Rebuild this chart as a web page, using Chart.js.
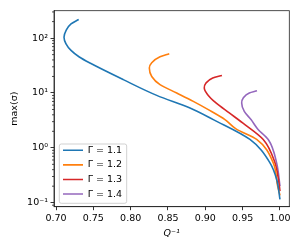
<!DOCTYPE html>
<html>
<head>
<meta charset="utf-8">
<script src="https://cdn.jsdelivr.net/npm/chart.js@4/dist/chart.umd.min.js"></script>
<style>
  body { margin: 0; background: #fff; }
</style>
</head>
<body>
<canvas id="grafico" width="302" height="251"></canvas>
<script>
// Valores
const gammaLabels = ['Γ = 1.1', 'Γ = 1.2', 'Γ = 1.3', 'Γ = 1.4'];
const cores = ['#1f77b4', '#ff7f0e', '#d62728', '#9467bd'];

const qInv11 = [0.7304, 0.7201, 0.7134, 0.7107, 0.7134, 0.7201, 0.7312, 0.7455, 0.7901, 0.8349, 0.8795, 0.9107, 0.9598, 0.9866, 0.9956, 1.0];
const sigma11 = [218, 182, 137, 104, 78.7, 59.6, 45.2, 35.1, 17.5, 9.04, 5.33, 3.27, 1.42, 0.533, 0.265, 0.115];

const qInv12 = [0.8517, 0.8393, 0.8282, 0.8250, 0.8282, 0.8393, 0.8617, 0.8839, 0.9040, 0.9263, 0.9411, 0.9688, 0.9910, 0.9969, 1.0];
const sigma12 = [51.9, 45.7, 35.6, 28.5, 20.0, 14.2, 10.0, 7.03, 4.97, 3.27, 2.21, 1.42, 0.533, 0.2, 0.136];

const qInv13 = [0.9223, 0.9099, 0.9009, 0.8986, 0.9032, 0.9143, 0.9321, 0.9500, 0.9776, 0.9933, 0.9980, 1.0];
const sigma13 = [20.9, 18.7, 15.2, 12.3, 9.31, 6.58, 4.33, 2.85, 1.42, 0.533, 0.265, 0.163];

const qInv14 = [0.9692, 0.9589, 0.9508, 0.9487, 0.9522, 0.9612, 0.9701, 0.9843, 0.9955, 1.0];
const sigma14 = [11.0, 10.0, 8.11, 6.58, 4.62, 3.27, 2.21, 1.42, 0.533, 0.2];

const xTicks = [0.70, 0.75, 0.80, 0.85, 0.90, 0.95, 1.00];
const yMajor = [0.1, 1, 10, 100];
const yLabels = ['10⁻¹', '10⁰', '10¹', '10²'];

const series = [[qInv11, sigma11], [qInv12, sigma12], [qInv13, sigma13], [qInv14, sigma14]];

const fonte = 'DejaVu Sans';

// ticks menores do eixo log (2..9 de cada década)
const yMinor = [];
[0.01, 0.1, 1, 10, 100].forEach(d => {
    for (let k = 2; k <= 9; k++) yMinor.push(+(k * d).toPrecision(3));
});

function ehMaior(v) {
    return yMajor.some(m => Math.abs(m - v) / m < 1e-6);
}

// moldura completa, ticks menores e caixa da legenda
const molduraPlugin = {
    id: 'moldura',
    afterLayout(chart) {
        const a = chart.chartArea;
        const lg = chart.legend;
        lg.left = a.left + 3.9;
        lg.top = a.bottom - 66.3;
        lg.width = 90;
        lg.height = 70;
        lg.right = lg.left + lg.width;
        lg.bottom = lg.top + lg.height;
    },
    beforeDraw(chart) {
        const ctx = chart.ctx;
        const a = chart.chartArea;
        const x0 = a.left + 5.3, y0 = a.bottom - 62.7;
        const w = 67.4, h = 59.3, r = 2;
        ctx.save();
        ctx.beginPath();
        ctx.moveTo(x0 + r, y0);
        ctx.arcTo(x0 + w, y0, x0 + w, y0 + h, r);
        ctx.arcTo(x0 + w, y0 + h, x0, y0 + h, r);
        ctx.arcTo(x0, y0 + h, x0, y0, r);
        ctx.arcTo(x0, y0, x0 + w, y0, r);
        ctx.closePath();
        ctx.fillStyle = 'rgba(255,255,255,0.8)';
        ctx.fill();
        ctx.strokeStyle = '#cccccc';
        ctx.lineWidth = 0.9;
        ctx.stroke();
        ctx.restore();
    },
    afterDraw(chart) {
        const ctx = chart.ctx;
        const a = chart.chartArea;
        const y = chart.scales.y;
        ctx.save();
        ctx.strokeStyle = '#000';
        ctx.lineWidth = 0.7;
        y.ticks.forEach(t => {
            if (ehMaior(t.value)) return;
            const py = y.getPixelForValue(t.value);
            ctx.beginPath();
            ctx.moveTo(a.left - 2, py);
            ctx.lineTo(a.left, py);
            ctx.stroke();
        });
        ctx.lineWidth = 0.8;
        ctx.strokeStyle = '#222';
        ctx.strokeRect(a.left, a.top, a.right - a.left, a.bottom - a.top);
        ctx.restore();
    }
};

const ctx = document.getElementById('grafico').getContext('2d');
const grafico = new Chart(ctx, {
    type: 'line',
    data: {
        datasets: series.map((s, i) => ({
            label: gammaLabels[i],
            data: s[0].map((q, j) => ({ x: q, y: s[1][j] })),
            indexAxis: 'y',
            borderColor: cores[i],
            backgroundColor: cores[i],
            borderWidth: 1.6,
            pointRadius: 0,
            fill: false,
            cubicInterpolationMode: 'monotone'
        }))
    },
    options: {
        responsive: false,
        devicePixelRatio: 1,
        animation: false,
        indexAxis: 'y',
        layout: { padding: { left: 0, top: 10.7, right: 12.7, bottom: 0 } },
        scales: {
            x: {
                type: 'linear',
                min: 0.6973,
                max: 1.0125,
                afterBuildTicks: s => { s.ticks = xTicks.map(v => ({ value: v })); },
                afterFit: s => { s.height = 44.3; },
                ticks: {
                    autoSkip: false,
                    maxRotation: 0,
                    padding: 2.5,
                    color: '#000',
                    font: { family: fonte, size: 9.5 },
                    callback: v => v.toFixed(2)
                },
                grid: { drawOnChartArea: false, tickLength: 3.5, tickColor: '#000', tickWidth: 0.8 },
                border: { color: '#222', width: 0.8 },
                title: {
                    display: true,
                    text: 'Q⁻¹',
                    color: '#000',
                    font: { family: fonte, size: 9.5, style: 'italic' },
                    padding: { top: 0, bottom: 12 }
                }
            },
            y: {
                type: 'logarithmic',
                min: 0.0845,
                max: 316,
                afterBuildTicks: s => {
                    const vals = yMajor.concat(yMinor).filter(v => v >= 0.0845 && v <= 316).sort((p, q) => p - q);
                    s.ticks = vals.map(v => ({ value: v }));
                },
                afterFit: s => { s.width = 54; },
                ticks: {
                    autoSkip: false,
                    padding: 2.5,
                    color: '#000',
                    font: { family: fonte, size: 9.5 },
                    callback: v => {
                        const i = yMajor.findIndex(m => Math.abs(m - v) / m < 1e-6);
                        return i >= 0 ? yLabels[i] : '';
                    }
                },
                grid: {
                    drawOnChartArea: false,
                    tickLength: 3.5,
                    tickWidth: 0.8,
                    tickColor: c => (c.tick && ehMaior(c.tick.value)) ? '#000' : 'rgba(0,0,0,0)'
                },
                border: { color: '#222', width: 0.8 },
                title: {
                    display: true,
                    text: 'max(σ)',
                    color: '#000',
                    font: { family: fonte, size: 9.5 },
                    padding: { top: 9.3, bottom: 0 }
                }
            }
        },
        plugins: {
            legend: {
                position: 'chartArea',
                fullSize: false,
                align: 'start',
                labels: {
                    boxWidth: 20,
                    boxHeight: 1.6,
                    padding: 5.1,
                    color: '#000',
                    font: { family: fonte, size: 9.5 },
                    generateLabels: chart => Chart.defaults.plugins.legend.labels.generateLabels(chart).map(l => {
                        l.lineWidth = 0;
                        return l;
                    })
                }
            },
            tooltip: { enabled: false }
        }
    },
    plugins: [molduraPlugin]
});
</script>
</body>
</html>
